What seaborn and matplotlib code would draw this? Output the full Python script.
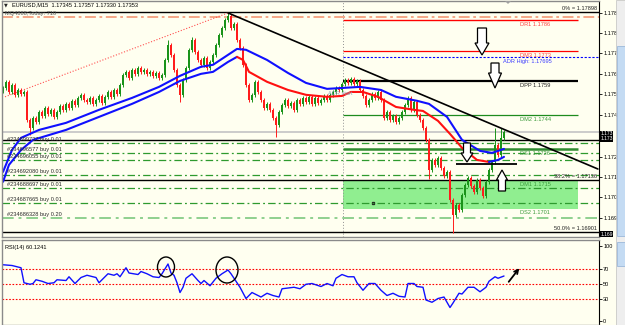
import matplotlib
matplotlib.use("Agg")
import matplotlib.pyplot as plt
from matplotlib.patches import Rectangle, Polygon, Ellipse, FancyArrowPatch
import seaborn as sns

# ---------------- data ----------------
title_text = "EURUSD,M15  1.17345 1.17357 1.17330 1.17353"
info_text = "MQ4888;Today: 710"

first_open = 1.17540
close_prices = [
    1.17553, 1.17581, 1.17535, 1.17567, 1.17522, 1.17544, 1.17526, 1.17535, 1.17408, 1.17372,
    1.17417, 1.17399, 1.17445, 1.17427, 1.17463, 1.17436, 1.17454, 1.17422, 1.17445, 1.17472,
    1.17454, 1.17481, 1.17463, 1.17495, 1.17476, 1.17508, 1.17522, 1.17499, 1.17490, 1.17508,
    1.17481, 1.17499, 1.17517, 1.17485, 1.17513, 1.17535, 1.17513, 1.17544, 1.17526, 1.17567,
    1.17612, 1.17626, 1.17599, 1.17635, 1.17617, 1.17644, 1.17626, 1.17635, 1.17617, 1.17626,
    1.17608, 1.17621, 1.17599, 1.17612, 1.17680, 1.17748, 1.17703, 1.17635, 1.17567, 1.17522,
    1.17590, 1.17644, 1.17726, 1.17771, 1.17716, 1.17680, 1.17658, 1.17689, 1.17644, 1.17671,
    1.17703, 1.17748, 1.17793, 1.17825, 1.17861, 1.17880, 1.17825, 1.17843, 1.17771, 1.17735,
    1.17658, 1.17567, 1.17499, 1.17522, 1.17581, 1.17535, 1.17499, 1.17463, 1.17481, 1.17454,
    1.17417, 1.17386, 1.17445, 1.17476, 1.17499, 1.17472, 1.17485, 1.17454, 1.17499, 1.17481,
    1.17508, 1.17490, 1.17513, 1.17481, 1.17508, 1.17485, 1.17499, 1.17517, 1.17499, 1.17522,
    1.17535, 1.17553, 1.17544, 1.17572, 1.17590, 1.17576, 1.17594, 1.17572, 1.17585, 1.17544,
    1.17517, 1.17476, 1.17499, 1.17526, 1.17508, 1.17535, 1.17499, 1.17417, 1.17445, 1.17408,
    1.17427, 1.17399, 1.17417, 1.17445, 1.17476, 1.17508, 1.17454, 1.17490, 1.17431, 1.17408,
    1.17372, 1.17318, 1.17182, 1.17227, 1.17205, 1.17236, 1.17191, 1.17155, 1.17173, 1.17046,
    1.16978, 1.17023, 1.17001, 1.17069, 1.17114, 1.17146, 1.17110, 1.17082, 1.17137, 1.17100,
    1.17064, 1.17128, 1.17182, 1.17218, 1.17295, 1.17250, 1.17327, 1.17353,
]
notable_highs = {55: 1.17771, 63: 1.17784, 75: 1.17898, 164: 1.17372, 166: 1.17372}
notable_lows = {9: 1.17340, 59: 1.17490, 91: 1.17331, 142: 1.17140, 150: 1.16897}

upper_ma_bars = [0, 3, 6, 12, 21, 32, 43, 52, 59, 66, 70, 75, 78, 81, 88, 95, 101, 108, 113,
                 119, 126, 131, 138, 142, 148, 153, 159, 163, 167]
upper_ma_vals = [1.17173, 1.17272, 1.17327, 1.17363, 1.17395, 1.17454, 1.17508, 1.17558, 1.17608,
                 1.17649, 1.17658, 1.17703, 1.17730, 1.17726, 1.17680, 1.17621, 1.17576, 1.17549,
                 1.17553, 1.17558, 1.17544, 1.17513, 1.17495, 1.17481, 1.17422, 1.17318, 1.17268,
                 1.17259, 1.17277]
lower_ma_rise_bars = [0, 2, 6, 10, 21, 32, 43, 52, 59, 66, 70, 75, 78]
lower_ma_rise_vals = [1.17128, 1.17205, 1.17272, 1.17318, 1.17363, 1.17422, 1.17481, 1.17535,
                      1.17585, 1.17617, 1.17626, 1.17671, 1.17694]
lower_ma_fall_bars = [78, 80, 82, 88, 95, 101, 108, 113, 116, 120, 125, 131, 137, 140, 145, 149,
                      153, 158, 162]
lower_ma_fall_vals = [1.17694, 1.17680, 1.17626, 1.17581, 1.17544, 1.17522, 1.17513, 1.17517,
                      1.17535, 1.17535, 1.17513, 1.17467, 1.17454, 1.17449, 1.17404, 1.17345,
                      1.17282, 1.17227, 1.17218]
lower_ma_rise2_bars = [162, 165, 167]
lower_ma_rise2_vals = [1.17218, 1.17227, 1.17241]

rsi_bars = [0, 3, 6, 7, 9, 10, 11, 13, 15, 17, 18, 21, 22, 24, 26, 28, 31, 32, 35, 37, 38, 39,
            41, 42, 45, 46, 48, 50, 52, 53, 55, 56, 57, 58, 59, 60, 61, 63, 65, 66, 67, 69, 71,
            73, 75, 76, 77, 79, 81, 83, 86, 88, 90, 92, 93, 97, 99, 101, 103, 106, 108, 110,
            111, 113, 115, 117, 118, 120, 122, 124, 126, 128, 130, 132, 134, 135, 137, 138,
            140, 141, 143, 145, 147, 148, 149, 150, 152, 153, 155, 157, 159, 161, 162, 164,
            165, 167]
rsi_vals = [75, 74, 71, 51, 49, 50, 55, 53, 50, 51, 55, 54, 59, 50, 58, 61, 58, 51, 63, 61, 63,
            59, 71, 64, 62, 66, 63, 59, 58, 63, 76, 64, 61, 51, 38, 45, 57, 63, 54, 50, 54, 47,
            57, 63, 68, 63, 57, 45, 30, 38, 32, 37, 34, 32, 43, 45, 43, 49, 50, 46, 50, 47, 57,
            62, 59, 59, 51, 41, 50, 50, 41, 34, 37, 33, 32, 50, 50, 46, 45, 28, 25, 30, 32, 25,
            18, 24, 37, 36, 45, 45, 39, 45, 53, 59, 57, 60]
rsi_label = "RSI(14) 60.1241"
rsi_levels = [70, 50, 30]
rsi_ticks = [100, 70, 50, 30, 0]

price_tick_vals = [1.17893, 1.17802, 1.17712, 1.17617, 1.17526, 1.17431, 1.17241, 1.17150,
                   1.17060, 1.16964]
price_tick_labels = ["1.178", "1.178", "1.177", "1.176", "1.175", "1.174", "1.172", "1.171",
                     "1.170", "1.169"]

pivot_names = ["DR1", "DM3", "DPP", "DM2", "DS1"]
pivot_values = ["1.1786", "1.1773", "1.1759", "1.1744", "1.1726"]
pivot_line_prices = [1.17861, 1.17721, 1.17585, 1.17431, 1.17277]
zone_names = ["DM1", "DS2"]
zone_values = ["1.1715", "1.1701"]
zone_prices = [1.17132, 1.17005]
adr_high = 1.17695
fib_names = ["0%", "38.2%", "50.0%"]
fib_prices = [1.17898, 1.17136, 1.16901]
day_high_line = 1.17875
bid_price = 1.17353
black_level = 1.17318
short_level = 1.17209

order_ids = ["#234699737", "#234696577", "#234696055", "#234692080", "#234688697",
             "#234687665", "#234686328"]
order_lots = ["0.01", "0.01", "0.01", "0.01", "0.01", "0.01", "0.20"]
order_prices = [1.17304, 1.17259, 1.17227, 1.17159, 1.17100, 1.17032, 1.16964]

red_trend_bars = [0.67, 75]
red_trend_prices = [1.17513, 1.17893]
black_trend_bars = [75, 198.3]
black_trend_prices = [1.17893, 1.17186]
zone_dot_bar, zone_dot_price = 123.3, 1.17032

# ---------------- style ----------------
sns.set_style("white")
plt.rcParams['font.family'] = ['Liberation Sans', 'DejaVu Sans']
FS = 4.1
BG = '#FFFFF0'
W, H = 625, 325

fig = plt.figure(figsize=(6.25, 3.25), dpi=100, facecolor=BG)


def fr(x0, y0, x1, y1):
    return [x0 / W, 1 - y1 / H, (x1 - x0) / W, (y1 - y0) / H]


def fp(x, y):
    return (x / W, 1 - y / H)


def bar_of(px):
    return (px - 3) / 3.0


axp = fig.add_axes(fr(2, 1, 599, 237))
axr = fig.add_axes(fr(2, 240, 599, 325))
XL = (bar_of(2), bar_of(599))
for ax in (axp, axr):
    ax.set_facecolor(BG)
    ax.set_xlim(*XL)
    ax.set_xticks([])
    for s in ('left', 'top', 'bottom'):
        ax.spines[s].set_color('#8a8a8a')
        ax.spines[s].set_linewidth(1.0)
    ax.spines['right'].set_color('black')
    ax.spines['right'].set_linewidth(0.8)
    ax.yaxis.tick_right()
    ax.tick_params(axis='y', length=2, width=0.6, pad=1, labelsize=FS, colors='black')

axp.set_ylim(1.16878, 1.17947)
axr.set_ylim(-5.3, 108)

# ---------------- price pane ----------------
day_start = bar_of(343)
lvl_end = bar_of(578)
label_x = bar_of(520)

# background zone
axp.add_patch(Rectangle((day_start, zone_prices[1]), lvl_end - day_start,
                        zone_prices[0] - zone_prices[1], fc='#90ee90', ec='none', zorder=0.5))
axp.plot([zone_dot_bar], [zone_dot_price], 's', color='#202020', ms=1.4, zorder=1)

# full-width horizontals
axp.axhline(day_high_line, color='#f5a07f', lw=1.3, ls=(0, (6, 2, 1.5, 2)), zorder=1)
axp.axhline(bid_price, color='#c8c8c8', lw=1.3, zorder=0.8)
axp.axhline(black_level, color='black', lw=1.0, zorder=1)
for p in fib_prices:
    axp.axhline(p, color='black', lw=1.0, zorder=1)
for i, p in enumerate(order_prices):
    last = i == len(order_prices) - 1
    axp.axhline(p, color='#8fd08f' if last else '#2e9a2e', lw=1.4 if last else 0.9,
                ls=(0, (6, 2.5, 1.5, 2.5)), zorder=1)
    axp.annotate(f"{order_ids[i]} buy {order_lots[i]}", (bar_of(7), p), xytext=(0, 2.3),
                 textcoords='offset points', va='center', ha='left', fontsize=FS,
                 color='#2a2a2a', zorder=4)

# day separator
axp.axvline(day_start, color='#909090', lw=0.7, ls=(0, (1, 2)), zorder=0.6)

# pivot levels
piv_colors = ['#ff0000', '#ff0000', 'black', '#1e8c1e', '#2e8b2e']
piv_lw = [1.0, 0.9, 1.6, 0.9, 1.8]
piv_text_col = ['#ff4040', '#ff4040', '#202020', '#3a9a3a', '#3a9a3a']
for n, v, p, c, lw, tc in zip(pivot_names, pivot_values, pivot_line_prices, piv_colors, piv_lw,
                             piv_text_col):
    axp.hlines(p, day_start, lvl_end, color=c, lw=lw, zorder=1.2)
    axp.annotate(f"{n} {v}", (label_x, p), xytext=(0, -3.3), textcoords='offset points',
                 va='center', ha='left', fontsize=FS, color=tc, zorder=4)
for n, v, p in zip(zone_names, zone_values, zone_prices):
    axp.annotate(f"{n} {v}", (label_x, p), xytext=(0, -2.4), textcoords='offset points',
                 va='center', ha='left', fontsize=FS, color='#3a9a3a', zorder=4)
axp.hlines(adr_high, day_start, XL[1], color='#0000ff', lw=0.8, ls=(0, (2, 1.5)), zorder=1.2)
axp.annotate(f"ADR High: {adr_high}", (bar_of(503), adr_high), xytext=(0, -3.3),
             textcoords='offset points', va='center', ha='left', fontsize=FS,
             color='#3c3cff', zorder=4)
for n, p in zip(fib_names, fib_prices):
    axp.annotate(f"{n} = {p:.5f}", (bar_of(597), p), xytext=(0, 2.7),
                 textcoords='offset points', va='center', ha='right', fontsize=FS,
                 color='#202020', zorder=4)
axp.hlines(short_level, bar_of(456), bar_of(517), color='black', lw=1.3, zorder=3)

# trend lines
axp.plot(red_trend_bars, red_trend_prices, color='#ff5050', lw=0.8, ls=(0, (1, 1.6)), zorder=1.3)
axp.plot(black_trend_bars, black_trend_prices, color='black', lw=1.2, zorder=3)

# candles
opens = [first_open] + close_prices[:-1]
WICK = 0.00009
idx = list(range(len(close_prices)))
highs = [notable_highs.get(i, max(o, c) + WICK) for i, o, c in zip(idx, opens, close_prices)]
lows = [notable_lows.get(i, min(o, c) - WICK) for i, o, c in zip(idx, opens, close_prices)]
cols = ['#1a931a' if c >= o else '#ff1c1c' for o, c in zip(opens, close_prices)]
axp.vlines(idx, lows, highs, colors=cols, lw=0.7, zorder=2)
axp.bar(idx, [max(abs(c - o), 0.00002) for o, c in zip(opens, close_prices)],
        bottom=[min(o, c) for o, c in zip(opens, close_prices)], width=0.62, color=cols,
        linewidth=0, zorder=2.1)

# moving averages
sns.lineplot(x=upper_ma_bars, y=upper_ma_vals, ax=axp, color='#1010ff', lw=1.5,
             estimator=None, sort=False, zorder=2.5)
sns.lineplot(x=lower_ma_rise_bars, y=lower_ma_rise_vals, ax=axp, color='#1010ff', lw=1.5,
             estimator=None, sort=False, zorder=2.5)
sns.lineplot(x=lower_ma_fall_bars, y=lower_ma_fall_vals, ax=axp, color='#ff1010', lw=1.5,
             estimator=None, sort=False, zorder=2.5)
sns.lineplot(x=lower_ma_rise2_bars, y=lower_ma_rise2_vals, ax=axp, color='#1010ff', lw=1.5,
             estimator=None, sort=False, zorder=2.5)

axp.set_yticks(price_tick_vals)
axp.set_yticklabels(price_tick_labels)
axp.set_xlabel('')
axp.set_ylabel('')

# ---------------- RSI pane ----------------
for lv in rsi_levels:
    axr.axhline(lv, color='#ff0000', lw=0.8, ls=(0, (1.5, 1.5)), zorder=1)
sns.lineplot(x=rsi_bars, y=rsi_vals, ax=axr, color='#1010ff', lw=1.0, estimator=None,
             sort=False, zorder=2)
axr.set_yticks(rsi_ticks)
axr.set_yticklabels([str(t) for t in rsi_ticks])
axr.set_xlabel('')
axr.set_ylabel('')

# ---------------- texts & annotations in pixel space ----------------
fig.text(*fp(4, 5), "\u25bc", fontsize=3.5, va='center', ha='left', family='DejaVu Sans')
fig.text(*fp(12, 5), title_text, fontsize=FS, va='center', ha='left', color='black')
fig.text(*fp(5, 14), info_text, fontsize=FS, va='center', ha='left', color='#505050')
fig.text(*fp(328, 94), "ADR start", fontsize=FS, va='center', ha='left', color='#8aa0b8',
         zorder=1)
fig.text(*fp(5, 247), rsi_label, fontsize=FS, va='center', ha='left', color='black')


def block_arrow(cx, y_tail, y_tip, shaft_w, head_w, y_head):
    pts = [(cx - shaft_w / 2, y_tail), (cx + shaft_w / 2, y_tail), (cx + shaft_w / 2, y_head),
           (cx + head_w / 2, y_head), (cx, y_tip), (cx - head_w / 2, y_head),
           (cx - shaft_w / 2, y_head)]
    fig.add_artist(Polygon([fp(*p) for p in pts], closed=True, transform=fig.transFigure,
                           fc='white', ec='black', lw=0.9, zorder=6))


block_arrow(482, 28, 55, 9, 14, 43)
block_arrow(495, 63, 88, 8, 13, 73)
block_arrow(467, 143, 162, 7, 12, 153)
block_arrow(502, 191, 170, 7, 11, 180)

for cx, cy, w, h in [(166, 267, 17, 20), (227, 270, 22, 26)]:
    fig.add_artist(Ellipse(fp(cx, cy), w / W, h / H, transform=fig.transFigure, fill=False,
                           ec='black', lw=1.0, zorder=6))
fig.add_artist(FancyArrowPatch(fp(507, 284), fp(521, 266), transform=fig.transFigure,
                               arrowstyle='->', mutation_scale=7, lw=1.3, color='black',
                               zorder=6))

# shift marker at top
fig.add_artist(Polygon([fp(505, 1), fp(511, 1), fp(508, 4)], transform=fig.transFigure,
                       fc='#a0a0a0', ec='none', zorder=6))

# current-price boxes on the axis
fig.add_artist(Rectangle(fp(600, 142), 13 / W, 11 / H, transform=fig.transFigure,
                         fc='black', ec='none', zorder=6))
for yy in (133.5, 139):
    fig.text(*fp(601, yy), "1.173", fontsize=3.6, color='white', va='center', ha='left',
             zorder=7)
fig.add_artist(Rectangle(fp(600, 237), 13 / W, 6 / H, transform=fig.transFigure,
                         fc='black', ec='none', zorder=6))
fig.text(*fp(601, 234), "1.169", fontsize=3.6, color='white', va='center', ha='left', zorder=7)

# scrollbar strip
fig.add_artist(Rectangle(fp(616, 325), 9 / W, 325 / H, transform=fig.transFigure,
                         fc='#eeeeee', ec='#c0c0c0', lw=0.5, zorder=5))
fig.add_artist(Rectangle(fp(617, 236), 8 / W, 190 / H, transform=fig.transFigure,
                         fc='#c4dbf3', ec='#8fb0d6', lw=0.5, zorder=6))
fig.add_artist(Rectangle(fp(617, 266), 8 / W, 24 / H, transform=fig.transFigure,
                         fc='#c4dbf3', ec='#8fb0d6', lw=0.5, zorder=6))

fig.savefig("out.png", dpi=100, facecolor=BG)
